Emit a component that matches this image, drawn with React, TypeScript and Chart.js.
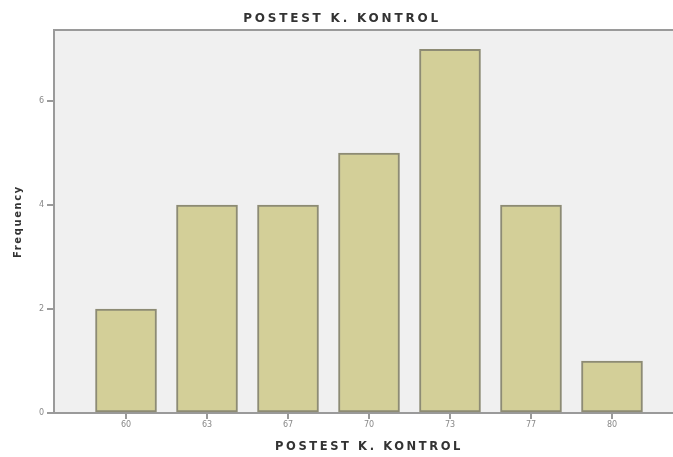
import React, { useEffect, useRef } from "react";
import { Chart, registerables } from "chart.js";

Chart.register(...registerables);

const categories = ["60", "63", "67", "70", "73", "77", "80"];
const frequencies = [2, 4, 4, 5, 7, 4, 1];
const yTickValues = [0, 2, 4, 6];
const titleText = "POSTEST K. KONTROL";
const xTitleText = "POSTEST K. KONTROL";
const yTitleText = "Frequency";

function withSpacing(obj: any, key: string, spacing: string) {
  const orig = obj[key];
  obj[key] = function (...args: any[]) {
    const ctx = this.ctx;
    ctx.save();
    try {
      ctx.letterSpacing = spacing;
    } catch (e) {}
    orig.apply(this, args);
    ctx.restore();
  };
}

const plotFrame = {
  id: "plotFrame",
  beforeDraw(chart: any) {
    if (!chart.$spaced) {
      chart.$spaced = true;
      if (chart.titleBlock) withSpacing(chart.titleBlock, "draw", "2.8px");
      withSpacing(chart.scales.x, "drawTitle", "2.6px");
      withSpacing(chart.scales.y, "drawTitle", "1.6px");
    }
    const { ctx, chartArea } = chart;
    ctx.save();
    ctx.fillStyle = "#f0f0f0";
    ctx.fillRect(chartArea.left, chartArea.top, chartArea.right - chartArea.left, chartArea.bottom - chartArea.top);
    ctx.strokeStyle = "#9a9a9a";
    ctx.lineWidth = 2;
    ctx.beginPath();
    ctx.moveTo(chartArea.left, chartArea.top);
    ctx.lineTo(chartArea.right, chartArea.top);
    ctx.stroke();
    ctx.restore();
  },
};

export default function App() {
  const ref = useRef<HTMLCanvasElement>(null);
  useEffect(() => {
    const canvas = ref.current!;
    const chart = new Chart(canvas, {
      type: "bar",
      data: {
        datasets: [
          {
            data: frequencies.map((v, i) => ({ x: i, y: v })),
            backgroundColor: "#d3cf98",
            borderColor: "#8d8b74",
            borderWidth: 2,
            borderSkipped: false,
            barThickness: 61,
          },
        ],
      },
      options: {
        responsive: false,
        animation: false,
        layout: { padding: 0 },
        plugins: {
          legend: { display: false },
          tooltip: { enabled: false },
          title: {
            display: true,
            text: titleText,
            color: "#333",
            font: { family: "DejaVu Sans", size: 12, weight: "bold" },
            padding: { top: 11.8, bottom: 3.8 },
          },
        },
        scales: {
          x: {
            type: "linear",
            offset: false,
            min: -0.889,
            max: 6.889,
            afterFit: (s: any) => {
              s.height = 44;
            },
            afterBuildTicks: (s: any) => {
              s.ticks = categories.map((_, i) => ({ value: i }));
            },
            ticks: {
              autoSkip: false,
              maxRotation: 0,
              padding: 1,
              color: "#888",
              font: { family: "DejaVu Sans", size: 8 },
              callback: (v: any) => categories[v] ?? "",
            },
            grid: {
              display: true,
              offset: false,
              drawOnChartArea: false,
              drawTicks: true,
              tickLength: 6,
              color: "#9a9a9a",
              lineWidth: 2,
            },
            border: { display: true, color: "#9a9a9a", width: 2 },
            title: {
              display: true,
              text: xTitleText,
              color: "#333",
              font: { family: "DejaVu Sans", size: 11.5, weight: "bold" },
              padding: { top: 0, bottom: 2.6 },
            },
          },
          y: {
            min: 0,
            max: 7.37,
            afterFit: (s: any) => {
              s.width = 54;
            },
            afterBuildTicks: (s: any) => {
              s.ticks = yTickValues.map((v) => ({ value: v }));
            },
            ticks: {
              padding: 3,
              color: "#888",
              font: { family: "DejaVu Sans", size: 8 },
            },
            grid: {
              display: true,
              drawOnChartArea: false,
              drawTicks: true,
              tickLength: 7,
              color: "#9a9a9a",
              lineWidth: 2,
            },
            border: { display: true, color: "#9a9a9a", width: 2 },
            title: {
              display: true,
              text: yTitleText,
              color: "#333",
              font: { family: "DejaVu Sans", size: 10, weight: "bold" },
              padding: { top: 12, bottom: 0 },
            },
          },
        },
      },
      plugins: [plotFrame],
    });
    return () => chart.destroy();
  }, []);

  return (
    <div style={{ position: "absolute", left: 0, top: 0, width: 673, height: 457, overflow: "hidden", background: "#fff" }}>
      <canvas ref={ref} width={684} height={457} style={{ width: 684, height: 457, display: "block" }} />
    </div>
  );
}
